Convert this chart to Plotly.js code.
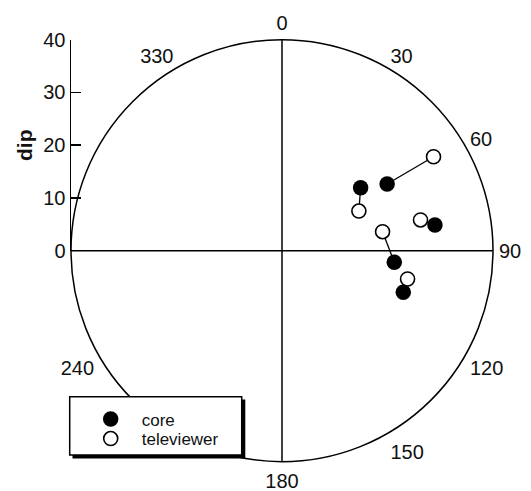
<!DOCTYPE html>
<html><head><meta charset="utf-8">
<script src="https://cdn.plot.ly/plotly-3.0.1.min.js"></script>
<style>html,body{margin:0;padding:0;background:#fff}</style>
</head><body>
<div id="chart" style="width:531px;height:491px"></div>
<script>
// ---- data ----
const azimuthTicks = [0, 30, 60, 90, 120, 150, 180, 240, 330];
const azimuthLabels = ["0", "30", "60", "90", "120", "150", "180", "240", "330"];
const crossTicks = [0, 90, 180, 270];
const dipTicks = [0, 10, 20, 30, 40];
const dipLabels = ["0", "10", "20", "30", "40"];
const coreAzimuth = [57.6, 51.3, 80.5, 95.9, 108.9];
const coreDip = [23.6, 19.1, 29.4, 21.4, 24.3];
const teleAzimuth = [58.2, 62.7, 77.5, 79.3, 102.7];
const teleDip = [33.8, 16.4, 26.9, 19.4, 24.4];

// ---- geometry (pixels) ----
const W = 531, H = 491;
const cx = 282, cy = 250.7, R = 211;
const px = v => v / W;
const py = v => 1 - v / H;

// pair connector arrays
const pairR = [], pairT = [];
for (let i = 0; i < coreDip.length; i++) {
  pairR.push(coreDip[i], teleDip[i], null);
  pairT.push(coreAzimuth[i], teleAzimuth[i], null);
}

const FONT = "Liberation Sans, Arial, Helvetica, sans-serif";
const polarDomain = {x: [px(cx - R), px(cx + R)], y: [py(cy + R), py(cy - R)]};

const traces = [
  {type: 'scatter', x: [], y: [], xaxis: 'x', yaxis: 'y', showlegend: false, hoverinfo: 'skip'},
  {type: 'scatterpolar', subplot: 'polar', r: [], theta: [], mode: 'markers', showlegend: false, hoverinfo: 'skip'},
  {type: 'scatterpolar', subplot: 'polar2', r: pairR, theta: pairT, mode: 'lines',
   line: {color: '#000', width: 1.3}, showlegend: false, hoverinfo: 'skip', connectgaps: false},
  {type: 'scatterpolar', subplot: 'polar2', r: teleDip, theta: teleAzimuth, mode: 'markers',
   name: 'televiewer', legend: 'legend2',
   marker: {symbol: 'circle', size: 14, color: '#fff', line: {color: '#000', width: 1.6}}},
  {type: 'scatterpolar', subplot: 'polar2', r: coreDip, theta: coreAzimuth, mode: 'markers',
   name: 'core', legend: 'legend',
   marker: {symbol: 'circle', size: 15.5, color: '#000', line: {color: '#000', width: 0}}}
];

const legendBase = {xanchor: 'left', yanchor: 'top', bgcolor: 'rgba(0,0,0,0)', borderwidth: 0,
  itemwidth: 52, font: {family: FONT, size: 17, color: '#111'}};

const layout = {
  width: W, height: H,
  margin: {l: 0, r: 0, t: 0, b: 0},
  paper_bgcolor: '#fff', plot_bgcolor: 'rgba(0,0,0,0)',
  font: {family: FONT, size: 20, color: '#111'},
  showlegend: true,
  xaxis: {domain: polarDomain.x, range: [-1, 1], visible: false},
  yaxis: {domain: [py(cy), py(cy - R)], range: [0, 40], anchor: 'x',
    tickvals: dipTicks, ticktext: dipLabels, ticks: 'inside', ticklen: 10, tickwidth: 1.5, tickcolor: '#000',
    showline: true, linecolor: '#000', linewidth: 1.5, showgrid: false, zeroline: false,
    tickfont: {family: FONT, size: 20, color: '#111'},
    title: {text: '<b>dip</b>', font: {family: FONT, size: 21, color: '#111'}, standoff: 5}},
  polar: {
    domain: polarDomain, bgcolor: 'rgba(0,0,0,0)',
    radialaxis: {visible: false, range: [0, 40]},
    angularaxis: {rotation: 90, direction: 'clockwise', tickvals: crossTicks, showticklabels: false,
      ticks: '', showgrid: true, gridcolor: '#000', gridwidth: 1.5,
      showline: true, linecolor: '#000', linewidth: 1.5}
  },
  polar2: {
    domain: polarDomain, bgcolor: 'rgba(0,0,0,0)',
    radialaxis: {visible: false, range: [0, 40]},
    angularaxis: {rotation: 90, direction: 'clockwise', tickvals: azimuthTicks, ticktext: azimuthLabels,
      ticks: 'outside', ticklen: 1.5, tickcolor: 'rgba(0,0,0,0)', showgrid: false, showline: false,
      tickfont: {family: FONT, size: 20, color: '#111'}}
  },
  legend: Object.assign({x: px(79.7), y: py(401.5)}, legendBase),
  legend2: Object.assign({x: px(79.7), y: py(421)}, legendBase),
  shapes: [
    {type: 'rect', xref: 'paper', yref: 'paper', x0: px(72.5), x1: px(245.3), y0: py(458.5), y1: py(399.5),
     fillcolor: '#000', line: {width: 0}, layer: 'above'},
    {type: 'rect', xref: 'paper', yref: 'paper', x0: px(69.7), x1: px(241.7), y0: py(455), y1: py(396.7),
     fillcolor: '#fff', line: {color: '#000', width: 1.5}, layer: 'above'}
  ]
};

Plotly.newPlot('chart', traces, layout, {staticPlot: true, displayModeBar: false});
</script>
</body></html>
